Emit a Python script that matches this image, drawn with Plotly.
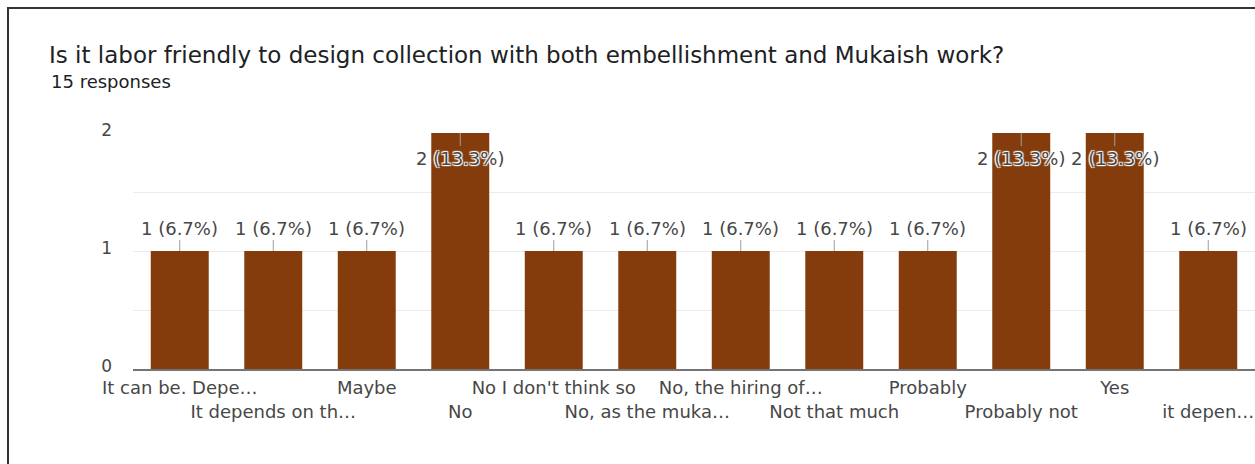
import plotly.graph_objects as go

categories = ["It can be. Depe…", "It depends on th…", "Maybe", "No", "No I don't think so",
              "No, as the muka…", "No, the hiring of…", "Not that much", "Probably",
              "Probably not", "Yes", "it depen…"]
values = [1, 1, 1, 2, 1, 1, 1, 1, 1, 2, 2, 1]
title_text = "Is it labor friendly to design collection with both embellishment and Mukaish work?"
subtitle_text = "15 responses"
ytick_vals = [0, 1, 2]

FONT = "DejaVu Sans"
BAR = "#843c0c"
W, H = 1255, 464
L, R, T, B = 133, 0, 133, 95
pw, ph = W - L - R, H - T - B
total = sum(values)
ymax = max(values)

fig = go.Figure(go.Bar(x=list(range(len(categories))), y=values, marker_color=BAR,
                       marker_line_width=0, hoverinfo="skip"))

annotations = []
halo = "1px 1px 1px #fff, -1px -1px 1px #fff, 1px -1px 1px #fff, -1px 1px 1px #fff"
for i, v in enumerate(values):
    txt = f"{v} ({v / total * 100:.1f}%)"
    at_top = v >= ymax
    annotations.append(dict(
        x=i, y=v, xref="x", yref="y", text=txt, showarrow=True, arrowhead=0,
        arrowwidth=1, arrowcolor="#9e9e9e", ax=0, ay=25 if at_top else -23,
        font=dict(family=FONT, size=18, color="#474747", shadow=halo if at_top else "none"),
    ))

# subtitle
annotations.append(dict(x=(49 - L) / pw, y=(H - B - 82) / ph, xref="paper", yref="paper",
                        xanchor="left", yanchor="middle", text=subtitle_text, showarrow=False,
                        font=dict(family=FONT, size=18, color="#202124")))

fig.update_layout(
    width=W, height=H, margin=dict(l=L, r=R, t=T, b=B, pad=0),
    paper_bgcolor="white", plot_bgcolor="white", showlegend=False,
    bargap=0.38,
    title=dict(text=title_text, x=49 / W, xanchor="left", xref="container",
               y=1 - 55 / H, yanchor="middle", yref="container",
               font=dict(family=FONT, size=23, color="#202124")),
    annotations=annotations,
    shapes=[
        dict(type="line", xref="paper", yref="paper", x0=(8 - L) / pw, x1=(8 - L) / pw,
             y0=(H - B - 8) / ph, y1=(H - B - H - 2) / ph, line=dict(color="#333333", width=2)),
        dict(type="line", xref="paper", yref="paper", x0=(7 - L) / pw, x1=(W - L + 2) / pw,
             y0=(H - B - 8) / ph, y1=(H - B - 8) / ph, line=dict(color="#333333", width=2)),
    ],
)

ticktext = [c if i % 2 == 0 else "<br>" + c for i, c in enumerate(categories)]
fig.update_xaxes(tickmode="array", tickvals=list(range(len(categories))), ticktext=ticktext,
                 range=[-0.5, len(categories) - 0.5], showgrid=False, ticks="",
                 showline=True, linecolor="#757575", linewidth=1.5, zeroline=False,
                 tickfont=dict(family=FONT, size=18, color="#474747"), tickangle=0,
                 ticklabelstandoff=2, fixedrange=True)
fig.update_yaxes(range=[0, ymax], tickmode="array", tickvals=ytick_vals,
                 ticktext=[str(v) for v in ytick_vals], showgrid=True, gridcolor="#ececec",
                 gridwidth=1, zeroline=False, ticks="", ticklabelstandoff=20, ticklabelshift=-3,
                 minor=dict(dtick=0.5, showgrid=True, gridcolor="#ececec", gridwidth=1),
                 tickfont=dict(family=FONT, size=17, color="#474747"), fixedrange=True)

fig.write_html("out.html")
